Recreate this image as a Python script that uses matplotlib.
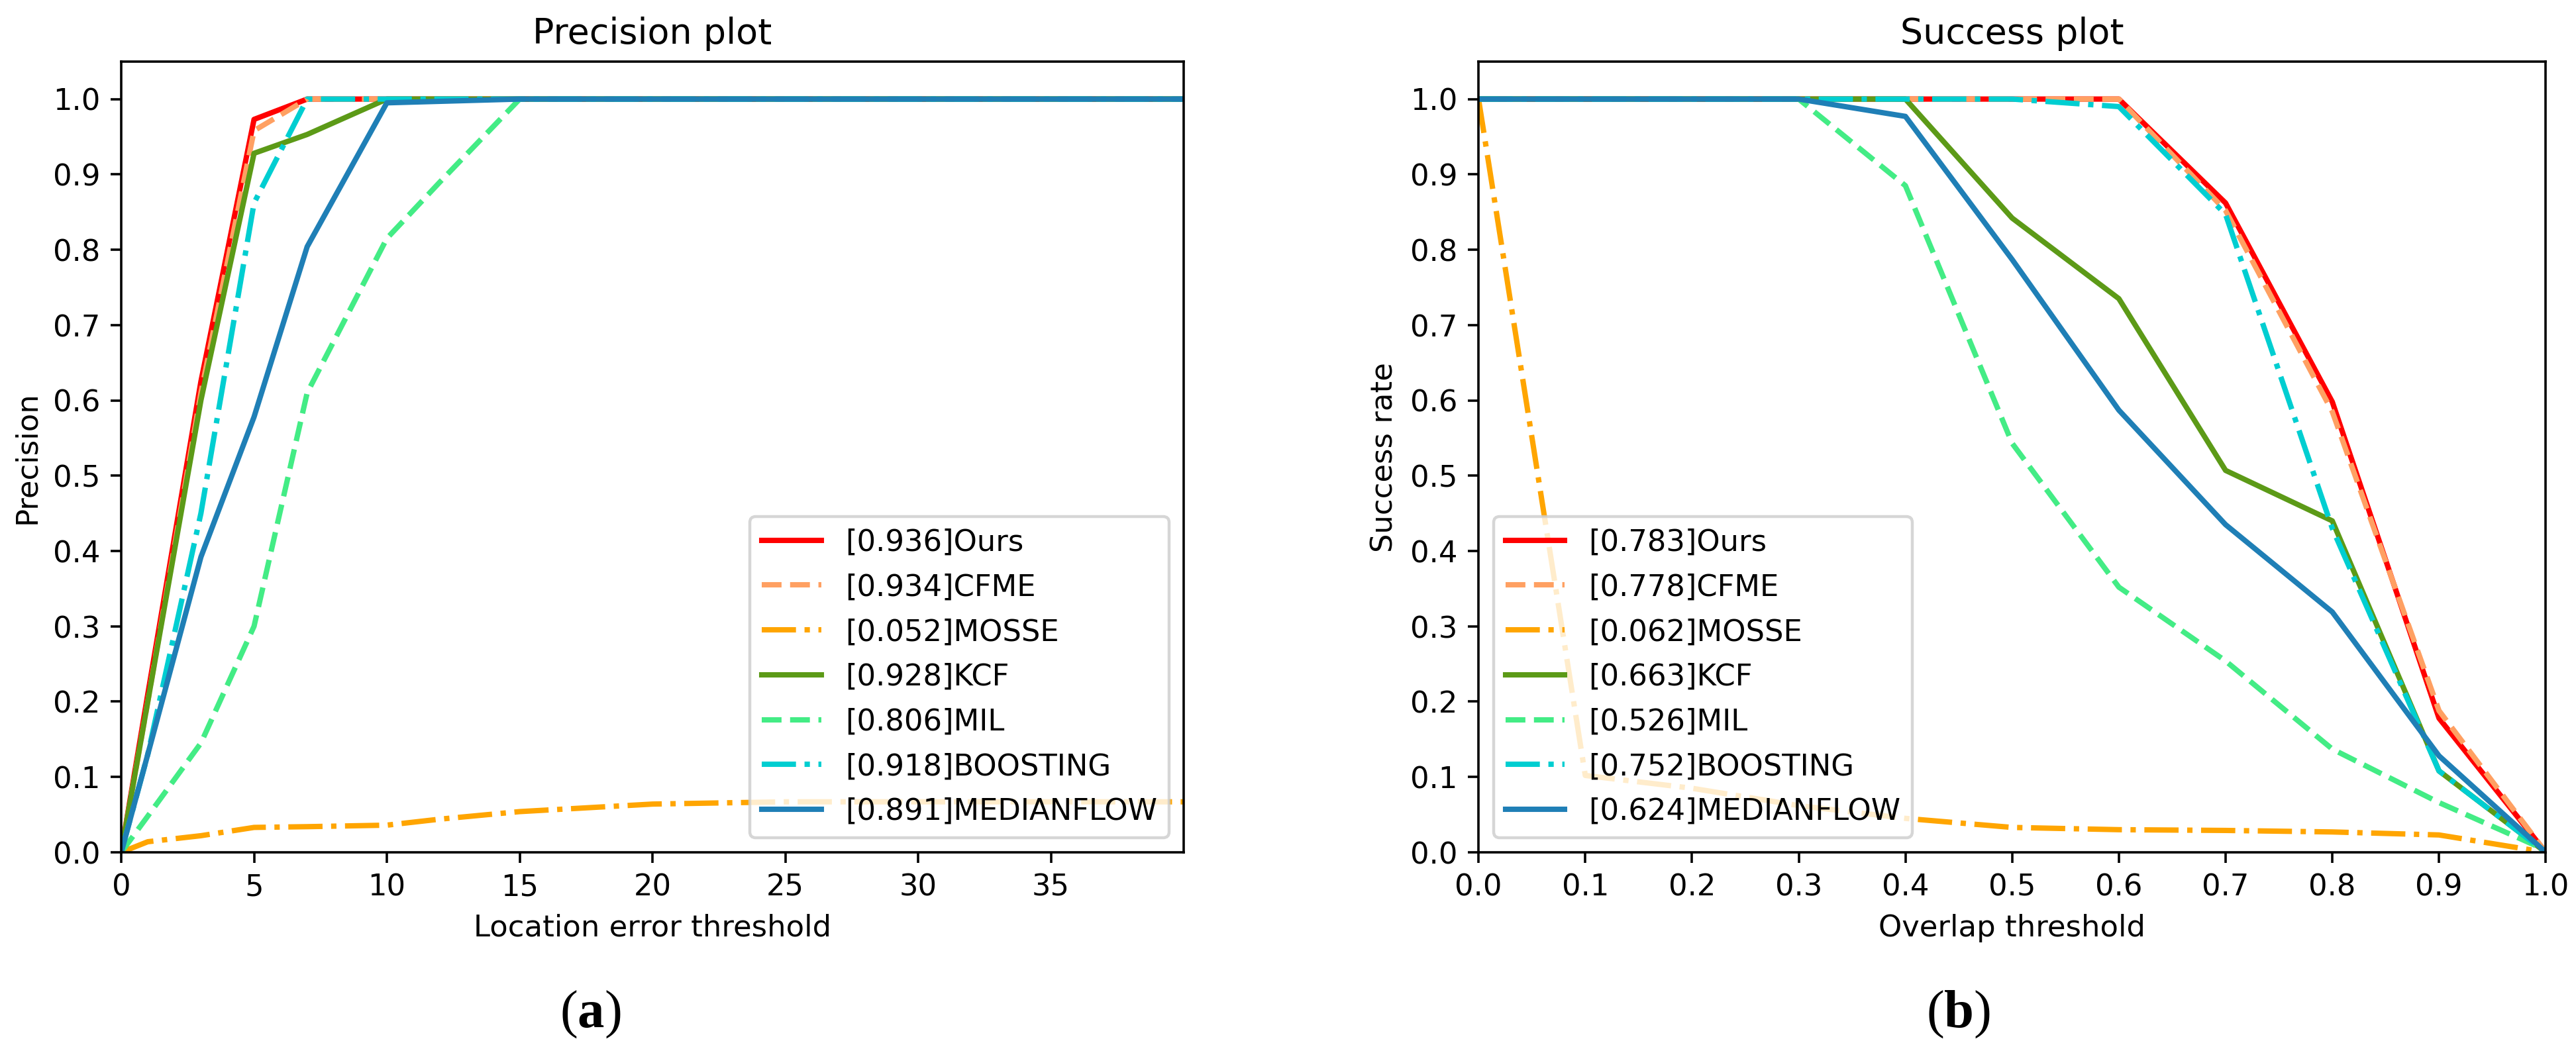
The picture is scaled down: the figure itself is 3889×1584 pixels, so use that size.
import matplotlib
matplotlib.use("Agg")
import matplotlib.pyplot as plt
import numpy as np

# names / scores shown in the legends
trackers = ["Ours", "CFME", "MOSSE", "KCF", "MIL", "BOOSTING", "MEDIANFLOW"]
prec_scores = [0.936, 0.934, 0.052, 0.928, 0.806, 0.918, 0.891]
succ_scores = [0.783, 0.778, 0.062, 0.663, 0.526, 0.752, 0.624]

# precision plot: location error thresholds (pixels)
loc_thr = [0, 1, 3, 5, 7, 10, 12, 15, 20, 25, 30, 40]
prec_ours = [0.0, 0.21, 0.625, 0.973, 1.0, 1.0, 1.0, 1.0, 1.0, 1.0, 1.0, 1.0]
prec_cfme = [0.0, 0.20, 0.61, 0.958, 1.0, 1.0, 1.0, 1.0, 1.0, 1.0, 1.0, 1.0]
prec_mosse = [0.0, 0.014, 0.022, 0.033, 0.034, 0.036, 0.044, 0.054, 0.064, 0.067, 0.067, 0.067]
prec_kcf = [0.0, 0.20, 0.60, 0.928, 0.953, 1.0, 1.0, 1.0, 1.0, 1.0, 1.0, 1.0]
prec_mil = [0.0, 0.048, 0.145, 0.30, 0.61, 0.815, 0.89, 1.0, 1.0, 1.0, 1.0, 1.0]
prec_boosting = [0.0, 0.13, 0.45, 0.862, 1.0, 1.0, 1.0, 1.0, 1.0, 1.0, 1.0, 1.0]
prec_medianflow = [0.0, 0.13, 0.392, 0.578, 0.804, 0.995, 0.997, 1.0, 1.0, 1.0, 1.0, 1.0]

# success plot: overlap thresholds
ovl_thr = [0.0, 0.1, 0.2, 0.3, 0.4, 0.5, 0.6, 0.7, 0.8, 0.9, 1.0]
succ_ours = [1.0, 1.0, 1.0, 1.0, 1.0, 1.0, 1.0, 0.862, 0.598, 0.178, 0.0]
succ_cfme = [1.0, 1.0, 1.0, 1.0, 1.0, 1.0, 1.0, 0.852, 0.585, 0.188, 0.0]
succ_mosse = [1.0, 0.102, 0.085, 0.062, 0.045, 0.033, 0.030, 0.029, 0.027, 0.023, 0.0]
succ_kcf = [1.0, 1.0, 1.0, 1.0, 1.0, 0.842, 0.735, 0.507, 0.44, 0.108, 0.0]
succ_mil = [1.0, 1.0, 1.0, 1.0, 0.885, 0.543, 0.352, 0.254, 0.137, 0.066, 0.003]
succ_boosting = [1.0, 1.0, 1.0, 1.0, 1.0, 1.0, 0.99, 0.847, 0.43, 0.108, 0.0]
succ_medianflow = [1.0, 1.0, 1.0, 1.0, 0.977, 0.787, 0.587, 0.435, 0.319, 0.128, 0.0]

colors = ["red", "#ffa062", "orange", "#5c9a17", "#43ec85", "darkturquoise", "#1f7fb6"]
styles = ["-", "--", "-.", "-", "--", "-.", "-"]

prec_all = [prec_ours, prec_cfme, prec_mosse, prec_kcf, prec_mil, prec_boosting, prec_medianflow]
succ_all = [succ_ours, succ_cfme, succ_mosse, succ_kcf, succ_mil, succ_boosting, succ_medianflow]

plt.rcParams['mathtext.fontset'] = 'custom'
plt.rcParams['mathtext.rm'] = 'Liberation Serif'
plt.rcParams['mathtext.bf'] = 'Liberation Serif:bold'
plt.rcParams['lines.linewidth'] = 1.8

W, H, DPI = 3889, 1584, 323
fig = plt.figure(figsize=((W + 0.3) / DPI, (H + 0.3) / DPI), dpi=DPI)

ax1 = fig.add_axes([183 / W, (H - 1287) / H, 1604 / W, 1194 / H])
ax2 = fig.add_axes([2232 / W, (H - 1287) / H, 1611 / W, 1194 / H])

for i, name in enumerate(trackers):
    ax1.plot(loc_thr, prec_all[i], color=colors[i], linestyle=styles[i],
             label=f"[{prec_scores[i]:.3f}]{name}")
    ax2.plot(ovl_thr, succ_all[i], color=colors[i], linestyle=styles[i],
             label=f"[{succ_scores[i]:.3f}]{name}")

ax1.set_xlim(0, 40)
ax1.set_ylim(0, 1.05)
ax1.set_xticks(np.arange(0, 40, 5))
ax1.set_yticks(np.arange(0, 1.01, 0.1))
ax1.set_title("Precision plot")
ax1.set_xlabel("Location error threshold")
ax1.set_ylabel("Precision")
ax1.legend(loc="lower right", labelspacing=0.55)

ax2.set_xlim(0, 1)
ax2.set_ylim(0, 1.05)
ax2.set_xticks(np.arange(0, 1.01, 0.1))
ax2.set_yticks(np.arange(0, 1.01, 0.1))
ax2.set_title("Success plot")
ax2.set_xlabel("Overlap threshold")
ax2.set_ylabel("Success rate")
ax2.legend(loc="lower left", labelspacing=0.55)

fig.text(891 / W, 1 - 1532 / H, r"($\mathbf{a}$)", family="Liberation Serif",
         fontsize=18, ha="center", va="center")
fig.text(2956 / W, 1 - 1532 / H, r"($\mathbf{b}$)", family="Liberation Serif",
         fontsize=18, ha="center", va="center")

fig.savefig("out.png", dpi=DPI, facecolor="white")
